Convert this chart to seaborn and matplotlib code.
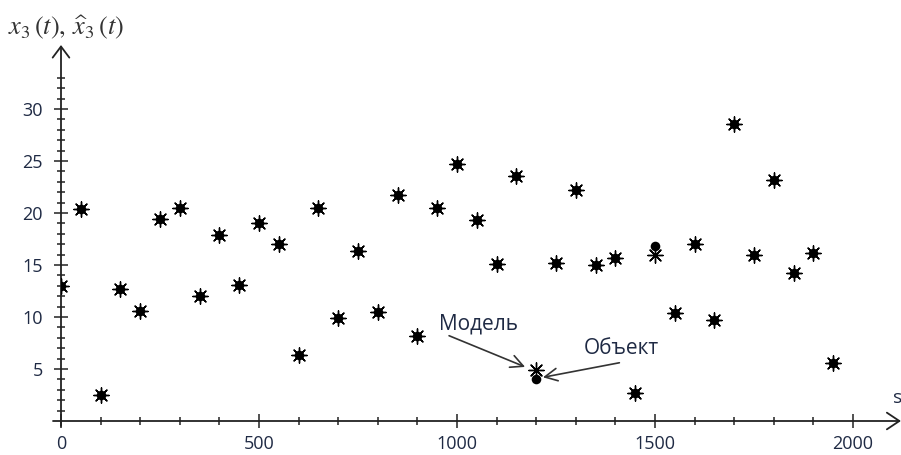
import matplotlib
matplotlib.use('Agg')
import pandas as pd
import seaborn as sns
import matplotlib.pyplot as plt

# time points, object values (dots) and model values (asterisks)
t = [0, 50, 100, 150, 200, 250, 300, 350, 400, 450,
     500, 550, 600, 650, 700, 750, 800, 850, 900, 950,
     1000, 1050, 1100, 1150, 1200, 1250, 1300, 1350, 1400, 1450,
     1500, 1550, 1600, 1650, 1700, 1750, 1800, 1850, 1900, 1950]
object_vals = [13.0, 20.4, 2.5, 12.7, 10.6, 19.4, 20.5, 12.0, 17.9, 13.1,
               19.0, 17.0, 6.3, 20.5, 9.9, 16.3, 10.5, 21.7, 8.2, 20.5,
               24.7, 19.3, 15.1, 23.6, 4.0, 15.2, 22.2, 15.0, 15.7, 2.7,
               16.8, 10.4, 17.0, 9.7, 28.6, 16.0, 23.2, 14.2, 16.2, 5.6]
model_vals = [13.0, 20.4, 2.5, 12.7, 10.6, 19.4, 20.5, 12.0, 17.9, 13.1,
              19.0, 17.0, 6.3, 20.5, 9.9, 16.3, 10.5, 21.7, 8.2, 20.5,
              24.7, 19.3, 15.1, 23.6, 4.9, 15.2, 22.2, 15.0, 15.7, 2.7,
              16.0, 10.4, 17.0, 9.7, 28.6, 16.0, 23.2, 14.2, 16.2, 5.6]
x_major = [0, 500, 1000, 1500, 2000]
y_major = [5, 10, 15, 20, 25, 30]

df = pd.DataFrame({'t': t, 'object': object_vals, 'model': model_vals})

sns.set_style('white')
plt.rcParams['font.family'] = ['Open Sans', 'DejaVu Sans']
plt.rcParams['mathtext.fontset'] = 'stix'

text_col = '#1f2a44'
axis_col = '#222222'

fig = plt.figure(figsize=(9.01, 4.55), dpi=100)
# axes area: x=0 at px 61, y=0 at px 421; 0.396 px per unit in x, 10.4 px per unit in y
ax = fig.add_axes([61 / 901, (455 - 421) / 455, 840 / 901, (421 - 45) / 455])
ax.set_xlim(0, 840 / 0.396)
ax.set_ylim(0, 376 / 10.4)

sns.scatterplot(data=df, x='t', y='object', marker='o', s=48, color='black',
                edgecolor='black', linewidth=0, ax=ax, zorder=3)
sns.scatterplot(data=df, x='t', y='model', marker=(8, 2, 0), s=120, color='black',
                linewidth=1.0, ax=ax, zorder=4)

for sp in ax.spines.values():
    sp.set_visible(False)

# axis lines with arrows
ax.annotate('', xy=(1.0, 0), xytext=(-8 / 840, 0), xycoords='axes fraction',
            arrowprops=dict(arrowstyle='->,head_length=0.9,head_width=0.6',
                            color=axis_col, lw=1.3, shrinkA=0, shrinkB=0),
            annotation_clip=False)
ax.annotate('', xy=(0, 1.0), xytext=(0, -5 / 376), xycoords='axes fraction',
            arrowprops=dict(arrowstyle='->,head_length=0.8,head_width=0.6',
                            color=axis_col, lw=1.3, shrinkA=0, shrinkB=0),
            annotation_clip=False)

ax.set_xticks(x_major)
ax.set_xticks([v for v in range(100, 2000, 100) if v % 500 != 0], minor=True)
ax.set_yticks(y_major)
ax.set_yticks([v for v in range(1, 34) if v % 5 != 0], minor=True)
ax.tick_params(which='both', direction='inout', color=axis_col, width=1.1,
               bottom=True, left=True, labelsize=13, labelcolor=text_col)
ax.tick_params(which='major', length=10)
ax.tick_params(which='minor', length=6)
ax.tick_params(axis='y', pad=8)
ax.tick_params(axis='x', pad=5)
ax.set_xlabel('')
ax.set_ylabel('')

# annotations
ax.text(1055, 9.3, 'Модель', fontsize=15, color=text_col, ha='center', va='center')
ax.annotate('', xy=(1172, 5.2), xytext=(980, 8.2),
            arrowprops=dict(arrowstyle='->,head_length=0.9,head_width=0.45',
                            color='#333333', lw=1.2, shrinkA=0, shrinkB=0))
ax.text(1414, 7.0, 'Объект', fontsize=15, color=text_col, ha='center', va='center')
ax.annotate('', xy=(1217, 4.2), xytext=(1410, 5.6),
            arrowprops=dict(arrowstyle='->,head_length=0.9,head_width=0.45',
                            color='#333333', lw=1.2, shrinkA=0, shrinkB=0))

# axis titles
fig.text(8 / 901, 1 - 28 / 455, r'$x_3\,(t),\,\widehat{x}_3\,(t)$', fontsize=19,
         color='#333333', ha='left', va='center')
fig.text(893 / 901, 1 - 398 / 455, 's', fontsize=14, color=text_col,
         ha='left', va='center')

fig.savefig('out.png', dpi=100)
